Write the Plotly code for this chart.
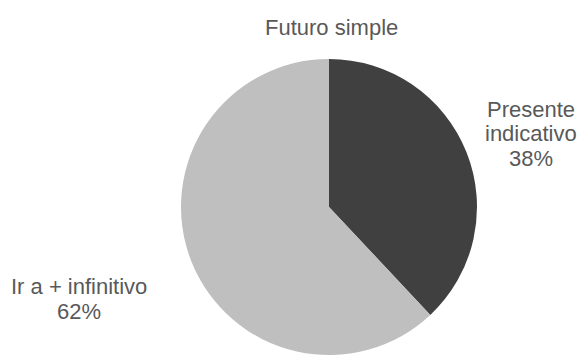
import plotly.graph_objects as go

labels = ["Presente indicativo", "Ir a + infinitivo"]
values = [38, 62]
colors = ["#404040", "#bfbfbf"]
title = "Futuro simple"

W, H = 581, 356
cx, cy, r = 329, 207, 148
FONT = dict(family="Liberation Sans, Arial", size=22, color="#595959")

fig = go.Figure(go.Pie(
    labels=labels, values=values, sort=False, direction="clockwise", rotation=0,
    marker=dict(colors=colors, line=dict(width=0)),
    textinfo="none", hoverinfo="label+percent",
    domain=dict(x=[(cx - r) / W, (cx + r) / W], y=[1 - (cy + r) / H, 1 - (cy - r) / H]),
    showlegend=False,
))

total = sum(values)
pct = [f"{round(v / total * 100)}%" for v in values]
label_lines = [["Presente", "indicativo", pct[0]], ["Ir a + infinitivo", pct[1]]]
label_pos = [(531, 109), (79, 286)]
spacing = 25
for (x, y0), lines in zip(label_pos, label_lines):
    for i, t in enumerate(lines):
        fig.add_annotation(x=x / W, y=1 - (y0 + i * spacing) / H, xref="paper", yref="paper",
                           text=t, showarrow=False, xanchor="center", yanchor="middle", font=FONT)

fig.add_annotation(x=331 / W, y=1 - 27 / H, xref="paper", yref="paper", text=title,
                   showarrow=False, xanchor="center", yanchor="middle", font=FONT)

fig.update_layout(width=W, height=H, margin=dict(l=0, r=0, t=0, b=0),
                  paper_bgcolor="white", plot_bgcolor="white")
fig.write_html("out.html")
